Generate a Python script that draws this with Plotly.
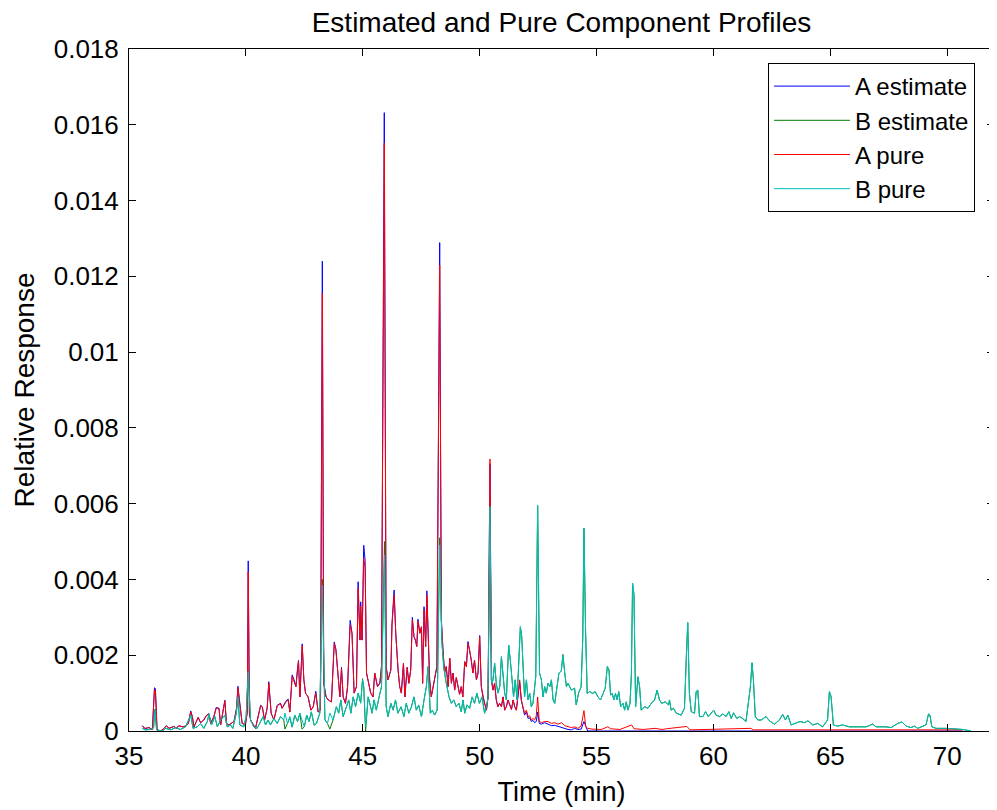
import plotly.graph_objects as go

# ---- Component A: shared time grid (min), values in units of 1e-3 ----
a_time = [35.57, 35.68, 35.85, 36.0, 36.09, 36.13, 36.2, 36.35, 36.5, 36.6, 36.71, 36.92, 37.02, 37.14,
          37.28, 37.42, 37.54, 37.64, 37.71, 37.78, 37.96, 38.06, 38.2, 38.3, 38.42, 38.49, 38.63, 38.73,
          38.85, 38.92, 39.1, 39.17, 39.27, 39.49, 39.6, 39.66, 39.72, 39.84, 39.98, 40.06, 40.1, 40.15,
          40.2, 40.3, 40.41, 40.63, 40.7, 40.8, 40.91, 40.98, 41.08, 41.2, 41.34, 41.48, 41.55, 41.7,
          41.81, 41.88, 41.98, 42.06, 42.14, 42.21, 42.25, 42.31, 42.41, 42.48, 42.55, 42.66, 42.78,
          42.88, 42.99, 43.09, 43.19, 43.27, 43.33, 43.43, 43.52, 43.66, 43.78, 43.85, 43.95, 44.02,
          44.09, 44.16, 44.26, 44.35, 44.46, 44.54, 44.63, 44.73, 44.8, 44.88, 44.91, 44.97, 45.04,
          45.1, 45.16, 45.23, 45.34, 45.44, 45.51, 45.63, 45.73, 45.8, 45.92, 46.0, 46.08, 46.2, 46.25,
          46.34, 46.41, 46.51, 46.58, 46.65, 46.74, 46.8, 46.9, 46.97, 47.05, 47.12, 47.19, 47.25,
          47.31, 47.36, 47.44, 47.51, 47.56, 47.62, 47.69, 47.74, 47.86, 47.93, 48.07, 48.17, 48.29,
          48.36, 48.43, 48.5, 48.57, 48.65, 48.72, 48.79, 48.86, 48.93, 49.0, 49.07, 49.14, 49.21,
          49.28, 49.36, 49.43, 49.5, 49.57, 49.64, 49.71, 49.78, 49.86, 49.93, 50.0, 50.07, 50.14,
          50.21, 50.29, 50.36, 50.44, 50.5, 50.57, 50.64, 50.71, 50.78, 50.85, 50.93, 51.0, 51.07,
          51.14, 51.21, 51.28, 51.36, 51.43, 51.5, 51.57, 51.64, 51.71, 51.78, 51.85, 51.92, 52.0,
          52.07, 52.14, 52.21, 52.28, 52.35, 52.42, 52.48, 52.55, 52.64, 52.78, 52.92, 53.07, 53.21,
          53.35, 53.5, 53.64, 53.78, 53.92, 54.06, 54.2, 54.34, 54.46, 54.54, 54.62, 54.8, 55.2,
          55.48, 55.6, 56.0, 56.5, 56.6, 57.0, 57.5, 57.8, 58.0, 58.86, 59.0, 61.6, 61.7, 70.66]

a_estimate = [0.14, 0.06, 0.09, 0.04, 1.14, 1.12, 0.03, 0.0, 0.07, 0.14, 0.07, 0.12, 0.07, 0.14,
              0.11, 0.13, 0.20, 0.53, 0.38, 0.11, 0.36, 0.22, 0.29, 0.40, 0.46, 0.20, 0.38, 0.62,
              0.60, 0.16, 0.81, 0.20, 0.16, 0.25, 0.60, 1.18, 0.84, 0.20, 0.16, 0.50, 4.49, 0.50,
              0.29, 0.20, 0.07, 0.68, 0.64, 0.29, 0.60, 1.30, 0.47, 0.29, 0.68, 0.73, 0.60, 0.78,
              0.84, 0.50, 1.48, 1.35, 1.17, 1.65, 1.86, 0.90, 2.30, 1.35, 1.00, 0.90, 0.55,
              0.64, 1.05, 0.50, 0.55, 12.40, 1.26, 0.90, 0.82, 0.77, 2.35, 2.16, 1.26, 0.90,
              1.68, 0.90, 0.73, 1.17, 2.92, 2.58, 1.00, 1.17, 3.94, 2.40, 3.41, 2.40, 4.90,
              4.50, 1.53, 1.35, 1.00, 0.90, 1.53, 1.17, 1.26, 1.70, 16.32, 1.70, 1.35, 1.61, 2.84,
              3.72, 2.58, 1.61, 1.17, 1.00, 1.79, 0.90, 1.68, 1.26, 1.61, 3.00, 2.49, 2.40,
              2.23, 2.95, 2.58, 2.75, 1.26, 3.28, 2.23, 3.70, 1.35, 0.90, 1.35, 1.70, 12.89,
              2.93, 2.14, 1.53, 1.70, 1.17, 1.92, 1.26, 1.53, 1.08, 1.41, 1.23, 0.97, 1.17,
              0.90, 1.83, 1.70, 2.36, 2.14, 1.87, 1.53, 1.87, 1.35, 1.53, 2.52, 1.17, 0.90,
              0.73, 0.55, 0.90, 7.05, 1.35, 1.08, 1.26, 0.82, 0.64, 0.73, 0.64, 0.90, 0.55,
              0.64, 0.82, 0.70, 0.57, 0.82, 0.64, 0.55, 0.90, 1.30, 0.82, 0.64, 0.42, 0.50,
              0.33, 0.35, 0.25, 0.28, 0.22, 0.25, 0.50, 0.20, 0.18, 0.22, 0.18, 0.14, 0.15,
              0.12, 0.10, 0.06, 0.04, 0.03, 0.07, 0.04, 0.05, 0.25, 0.10, 0.0, 0.0, 0.0,
              0.0, 0.0, 0.0, 0.0, 0.0, 0.0, 0.0, 0.0, 0.0, 0.0, 0.0, 0.0, 0.0, 0.0]

a_pure = [0.14, 0.07, 0.09, 0.04, 1.10, 1.06, 0.03, 0.0, 0.07, 0.14, 0.07, 0.12, 0.07, 0.14,
          0.11, 0.13, 0.20, 0.51, 0.38, 0.11, 0.36, 0.22, 0.29, 0.40, 0.45, 0.20, 0.38, 0.60,
          0.59, 0.16, 0.80, 0.20, 0.16, 0.25, 0.58, 1.14, 0.80, 0.20, 0.16, 0.50, 4.20, 0.45,
          0.29, 0.20, 0.07, 0.66, 0.64, 0.29, 0.60, 1.26, 0.47, 0.29, 0.66, 0.73, 0.60, 0.75,
          0.82, 0.50, 1.45, 1.30, 1.17, 1.62, 1.83, 0.90, 2.25, 1.35, 1.00, 0.90, 0.55,
          0.64, 1.00, 0.50, 0.55, 11.55, 1.26, 0.90, 0.82, 0.77, 2.31, 2.14, 1.26, 0.90,
          1.65, 0.90, 0.73, 1.17, 2.80, 2.58, 1.00, 1.17, 3.76, 2.40, 3.30, 2.40, 4.56,
          4.30, 1.53, 1.35, 1.00, 0.90, 1.53, 1.17, 1.26, 1.70, 15.51, 1.70, 1.35, 1.61, 2.80,
          3.59, 2.58, 1.61, 1.17, 1.00, 1.79, 0.90, 1.68, 1.26, 1.61, 2.93, 2.49, 2.40,
          2.23, 2.90, 2.58, 2.75, 1.26, 3.20, 2.23, 3.60, 1.35, 0.90, 1.35, 1.70, 12.30,
          2.93, 2.14, 1.53, 1.70, 1.17, 1.92, 1.26, 1.53, 1.08, 1.41, 1.23, 0.97, 1.17,
          0.90, 1.83, 1.70, 2.31, 2.14, 1.87, 1.53, 1.87, 1.35, 1.53, 2.49, 1.17, 0.90,
          0.73, 0.55, 0.90, 7.18, 1.35, 1.08, 1.26, 0.82, 0.64, 0.73, 0.64, 0.90, 0.55,
          0.64, 0.82, 0.70, 0.57, 0.82, 0.64, 0.55, 0.90, 1.35, 0.82, 0.64, 0.47, 0.55,
          0.38, 0.40, 0.29, 0.33, 0.29, 0.40, 0.90, 0.25, 0.22, 0.25, 0.25, 0.20, 0.22,
          0.18, 0.22, 0.14, 0.12, 0.09, 0.11, 0.07, 0.13, 0.54, 0.11, 0.07, 0.05, 0.04,
          0.11, 0.06, 0.04, 0.16, 0.06, 0.04, 0.07, 0.04, 0.06, 0.12, 0.03, 0.07, 0.03, 0.03]

# ---- Component B: shared time grid (min), values in units of 1e-3 ----
b_time = [35.57, 35.7, 35.9, 36.05, 36.11, 36.18, 36.42, 36.57, 36.78, 37.0, 37.2, 37.42, 37.64,
          37.74, 37.92, 38.06, 38.2, 38.35, 38.42, 38.53, 38.67, 38.78, 38.92, 39.1, 39.2, 39.34,
          39.44, 39.59, 39.66, 39.74, 39.91, 40.01, 40.1, 40.2, 40.34, 40.48, 40.63, 40.74, 40.84,
          40.95, 41.05, 41.2, 41.34, 41.48, 41.62, 41.67, 41.78, 41.88, 41.98, 42.09, 42.21, 42.31,
          42.4, 42.5, 42.6, 42.7, 42.8, 42.92, 43.02, 43.16, 43.27, 43.38, 43.49, 43.59, 43.73,
          43.87, 43.97, 44.06, 44.16, 44.3, 44.4, 44.49, 44.59, 44.69, 44.8, 44.91, 44.99, 45.04,
          45.12, 45.23, 45.34, 45.4, 45.48, 45.58, 45.7, 45.8, 45.93, 46.0, 46.08, 46.2, 46.3,
          46.4, 46.5, 46.64, 46.76, 46.86, 46.97, 47.08, 47.19, 47.29, 47.39, 47.51, 47.62, 47.72,
          47.79, 47.89, 47.98, 48.07, 48.18, 48.29, 48.38, 48.46, 48.57, 48.69, 48.79, 48.89, 49.0,
          49.11, 49.21, 49.29, 49.36, 49.46, 49.57, 49.68, 49.78, 49.88, 49.99, 50.1, 50.21, 50.29,
          50.36, 50.44, 50.51, 50.57, 50.64, 50.71, 50.78, 50.86, 50.93, 51.0, 51.07, 51.14, 51.24,
          51.31, 51.45, 51.52, 51.6, 51.74, 51.8, 51.87, 51.92, 52.0, 52.07, 52.14, 52.21, 52.28,
          52.4, 52.48, 52.56, 52.64, 52.71, 52.78, 52.85, 52.92, 53.0, 53.07, 53.14, 53.21, 53.28,
          53.39, 53.49, 53.56, 53.64, 53.71, 53.78, 53.92, 54.06, 54.13, 54.23, 54.34, 54.41, 54.46,
          54.53, 54.6, 54.7, 54.84, 54.94, 55.06, 55.17, 55.27, 55.37, 55.46, 55.53, 55.6, 55.67,
          55.74, 55.81, 55.88, 55.95, 56.03, 56.13, 56.2, 56.27, 56.34, 56.43, 56.49, 56.54, 56.6,
          56.67, 56.77, 56.84, 56.91, 57.05, 57.2, 57.34, 57.48, 57.59, 57.69, 57.79, 57.93, 58.08,
          58.12, 58.19, 58.29, 58.41, 58.62, 58.76, 58.84, 58.9, 58.97, 59.05, 59.19, 59.26, 59.33,
          59.4, 59.55, 59.66, 59.78, 59.9, 60.01, 60.11, 60.26, 60.4, 60.54, 60.66, 60.76, 60.86,
          61.0, 61.11, 61.25, 61.39, 61.58, 61.65, 61.71, 61.79, 61.9, 62.04, 62.25, 62.39, 62.61,
          62.82, 62.96, 63.08, 63.18, 63.32, 63.53, 63.7, 63.89, 64.04, 64.25, 64.46, 64.67, 64.88,
          64.96, 65.03, 65.13, 65.31, 65.52, 65.81, 66.24, 66.53, 66.81, 66.95, 67.38, 67.6, 67.89,
          68.06, 68.24, 68.45, 68.6, 68.74, 69.09, 69.2, 69.26, 69.34, 69.52, 69.95, 70.66, 71.01]

b_pure = [0.07, 0.03, 0.04, 0.08, 0.55, 0.03, 0.0, 0.07, 0.03, 0.09, 0.04, 0.11, 0.42,
          0.07, 0.11, 0.20, 0.07, 0.25, 0.45, 0.16, 0.38, 0.11, 0.29, 0.42, 0.11, 0.16,
          0.07, 0.47, 0.90, 0.16, 0.11, 0.38, 1.57, 0.29, 0.11, 0.07, 0.25, 0.38, 0.16,
          0.29, 0.16, 0.33, 0.20, 0.38, 0.29, 0.47, 0.20, 0.38, 0.11, 0.42, 0.25, 0.47,
          0.29, 0.11, 0.42, 0.25, 0.51, 0.16, 0.20, 0.47, 3.85, 0.29, 0.20, 0.47, 0.29,
          0.64, 0.47, 0.82, 0.38, 0.64, 0.82, 0.47, 0.90, 0.64, 1.00, 0.73, 1.35, 1.17,
          0.11, 0.90, 0.64, 0.47, 0.82, 0.55, 0.90, 1.17, 4.64, 0.64, 0.38, 0.73, 0.55,
          0.82, 0.47, 0.64, 0.38, 0.73, 0.47, 0.64, 0.90, 0.55, 0.69, 0.38, 0.82, 1.17,
          1.70, 0.47, 0.55, 0.42, 0.55, 4.91, 2.37, 1.70, 1.26, 0.90, 0.73, 0.82, 0.64,
          0.73, 0.51, 0.82, 0.47, 0.69, 0.60, 0.90, 0.73, 1.00, 0.73, 0.90, 0.47, 0.64,
          0.90, 5.92, 1.26, 1.35, 1.79, 1.26, 1.00, 1.17, 1.96, 1.53, 1.00, 0.82, 2.27,
          1.87, 0.90, 1.35, 0.82, 2.75, 2.49, 1.53, 0.90, 1.35, 0.82, 1.00, 0.64, 0.73,
          1.44, 5.95, 1.53, 1.35, 0.90, 1.17, 1.00, 1.26, 1.17, 1.35, 0.82, 0.73, 1.08,
          1.53, 1.58, 2.00, 1.53, 1.17, 1.26, 1.08, 1.13, 0.69, 1.00, 1.17, 2.40, 5.35,
          2.64, 0.99, 1.04, 0.99, 1.04, 0.90, 0.82, 0.99, 1.13, 1.70, 1.61, 0.95, 0.99,
          0.82, 0.99, 0.82, 1.04, 0.64, 0.73, 0.55, 0.77, 0.55, 0.73, 1.50, 3.90, 3.60,
          0.64, 1.43, 1.17, 0.55, 0.64, 0.60, 0.73, 0.82, 1.08, 0.82, 0.73, 0.77, 0.69,
          0.82, 0.55, 0.60, 0.47, 0.42, 0.60, 1.90, 2.86, 1.00, 0.51, 0.47, 1.04, 1.08,
          0.38, 0.38, 0.51, 0.38, 0.47, 0.55, 0.42, 0.38, 0.45, 0.38, 0.51, 0.33, 0.48,
          0.33, 0.38, 0.33, 0.25, 1.17, 1.80, 1.34, 0.38, 0.29, 0.29, 0.38, 0.27, 0.18,
          0.29, 0.44, 0.29, 0.42, 0.16, 0.20, 0.25, 0.22, 0.27, 0.16, 0.20, 0.11, 0.29,
          1.04, 0.91, 0.16, 0.13, 0.16, 0.11, 0.11, 0.11, 0.18, 0.11, 0.11, 0.09, 0.20,
          0.24, 0.13, 0.09, 0.13, 0.07, 0.16, 0.45, 0.42, 0.11, 0.07, 0.07, 0.04, 0.0]

b_estimate = [0.07, 0.03, 0.04, 0.08, 0.58, 0.03, 0.0, 0.07, 0.03, 0.09, 0.04, 0.11, 0.42,
              0.07, 0.11, 0.20, 0.07, 0.25, 0.45, 0.16, 0.38, 0.11, 0.29, 0.42, 0.11, 0.16,
              0.07, 0.47, 0.92, 0.16, 0.11, 0.38, 1.60, 0.29, 0.11, 0.07, 0.25, 0.38, 0.16,
              0.29, 0.16, 0.33, 0.20, 0.38, 0.29, 0.05, 0.20, 0.35, 0.10, 0.42, 0.25, 0.47,
              0.05, 0.11, 0.42, 0.25, 0.50, 0.15, 0.20, 0.47, 4.00, 0.30, 0.20, 0.05, 0.29,
              0.64, 0.47, 0.82, 0.38, 0.64, 0.82, 0.47, 0.90, 0.64, 1.00, 0.75, 1.38, 1.17,
              0.00, 0.90, 0.64, 0.47, 0.82, 0.55, 0.90, 1.17, 5.00, 0.65, 0.38, 0.73, 0.55,
              0.82, 0.47, 0.64, 0.38, 0.73, 0.47, 0.64, 0.90, 0.55, 0.68, 0.38, 0.82, 1.17,
              1.70, 0.47, 0.55, 0.42, 0.55, 5.10, 2.40, 1.70, 1.26, 0.90, 0.73, 0.82, 0.64,
              0.73, 0.51, 0.82, 0.47, 0.69, 0.60, 0.90, 0.73, 1.00, 0.73, 0.90, 0.47, 0.64,
              0.90, 5.95, 1.26, 1.35, 1.79, 1.26, 1.00, 1.17, 1.96, 1.53, 1.00, 0.82, 2.27,
              1.87, 0.90, 1.35, 0.82, 2.75, 2.49, 1.53, 0.90, 1.35, 0.82, 1.00, 0.64, 0.73,
              1.44, 5.95, 1.53, 1.35, 0.90, 1.17, 1.00, 1.26, 1.17, 1.35, 0.82, 0.73, 1.08,
              1.53, 1.58, 2.02, 1.53, 1.17, 1.26, 1.08, 1.13, 0.69, 1.00, 1.17, 2.50, 5.35,
              2.64, 0.99, 1.04, 0.99, 1.04, 0.90, 0.82, 0.99, 1.13, 1.70, 1.61, 0.95, 0.99,
              0.82, 0.99, 0.82, 1.04, 0.64, 0.73, 0.55, 0.77, 0.55, 0.73, 1.50, 3.90, 3.60,
              0.64, 1.43, 1.17, 0.55, 0.64, 0.60, 0.73, 0.82, 1.08, 0.82, 0.73, 0.77, 0.69,
              0.82, 0.55, 0.60, 0.47, 0.42, 0.60, 2.00, 2.86, 1.00, 0.51, 0.47, 1.04, 1.08,
              0.38, 0.38, 0.51, 0.38, 0.47, 0.55, 0.42, 0.38, 0.45, 0.38, 0.51, 0.33, 0.48,
              0.33, 0.38, 0.33, 0.25, 1.17, 1.80, 1.34, 0.38, 0.29, 0.29, 0.38, 0.27, 0.18,
              0.29, 0.44, 0.29, 0.42, 0.16, 0.20, 0.25, 0.22, 0.27, 0.16, 0.20, 0.11, 0.29,
              1.04, 0.91, 0.16, 0.13, 0.16, 0.11, 0.11, 0.11, 0.18, 0.11, 0.11, 0.09, 0.20,
              0.24, 0.13, 0.09, 0.13, 0.07, 0.16, 0.45, 0.42, 0.11, 0.07, 0.07, 0.04, 0.0]

series_names = ["A estimate", "B estimate", "A pure", "B pure"]
series_colors = ["#0000FF", "#008000", "#FF0000", "#00BFBF"]

x_ticks = [35, 40, 45, 50, 55, 60, 65, 70]
y_tick_vals = [0, 0.002, 0.004, 0.006, 0.008, 0.010, 0.012, 0.014, 0.016, 0.018]
y_tick_text = ["0", "0.002", "0.004", "0.006", "0.008", "0.01", "0.012", "0.014", "0.016", "0.018"]

SCALE = 1e-3  # values above are stored in units of 1e-3

series_data = [
    (a_time, a_estimate),
    (b_time, b_estimate),
    (a_time, a_pure),
    (b_time, b_pure),
]

fig = go.Figure()
for (t, v), name, color in zip(series_data, series_names, series_colors):
    fig.add_trace(go.Scatter(
        x=t, y=[val * SCALE for val in v], mode="lines", name=name,
        line=dict(color=color, width=1),
    ))

FONT = "Liberation Sans, Arial, sans-serif"
W, H = 997, 810
fig.update_layout(
    width=W, height=H,
    paper_bgcolor="white", plot_bgcolor="white",
    margin=dict(l=121, r=11, t=41, b=87, autoexpand=False),
    font=dict(family=FONT, color="black", size=26),
    title=dict(text="Estimated and Pure Component Profiles", x=(121 + 865 / 2) / W, xanchor="center",
               y=1 - 14 / H, yanchor="middle", font=dict(size=28, family=FONT)),
    showlegend=True,
    legend=dict(x=(975 - 129) / 865, y=(731 - 63) / 682, xanchor="right", yanchor="top",
                bgcolor="white", bordercolor="black", borderwidth=1,
                font=dict(size=24, family=FONT), tracegroupgap=0, itemwidth=76),
    hovermode=False,
)
fig.update_xaxes(
    range=[35, 72], tickvals=x_ticks, ticks="inside", ticklen=7, tickcolor="black",
    showline=True, linecolor="black", linewidth=1, mirror="ticks",
    showgrid=False, zeroline=False, automargin=False, ticklabelstandoff=2,
    tickfont=dict(size=26), title=dict(text="Time (min)", standoff=11, font=dict(size=27)),
)
fig.update_yaxes(
    range=[0, 0.018], tickvals=y_tick_vals, ticktext=y_tick_text, ticks="inside", ticklen=7,
    tickcolor="black", showline=True, linecolor="black", linewidth=1, mirror="ticks",
    showgrid=False, zeroline=False, automargin=False, ticklabelstandoff=4,
    tickfont=dict(size=26), title=dict(text="Relative Response", standoff=10, font=dict(size=28)),
)

fig.write_html("out.html")
